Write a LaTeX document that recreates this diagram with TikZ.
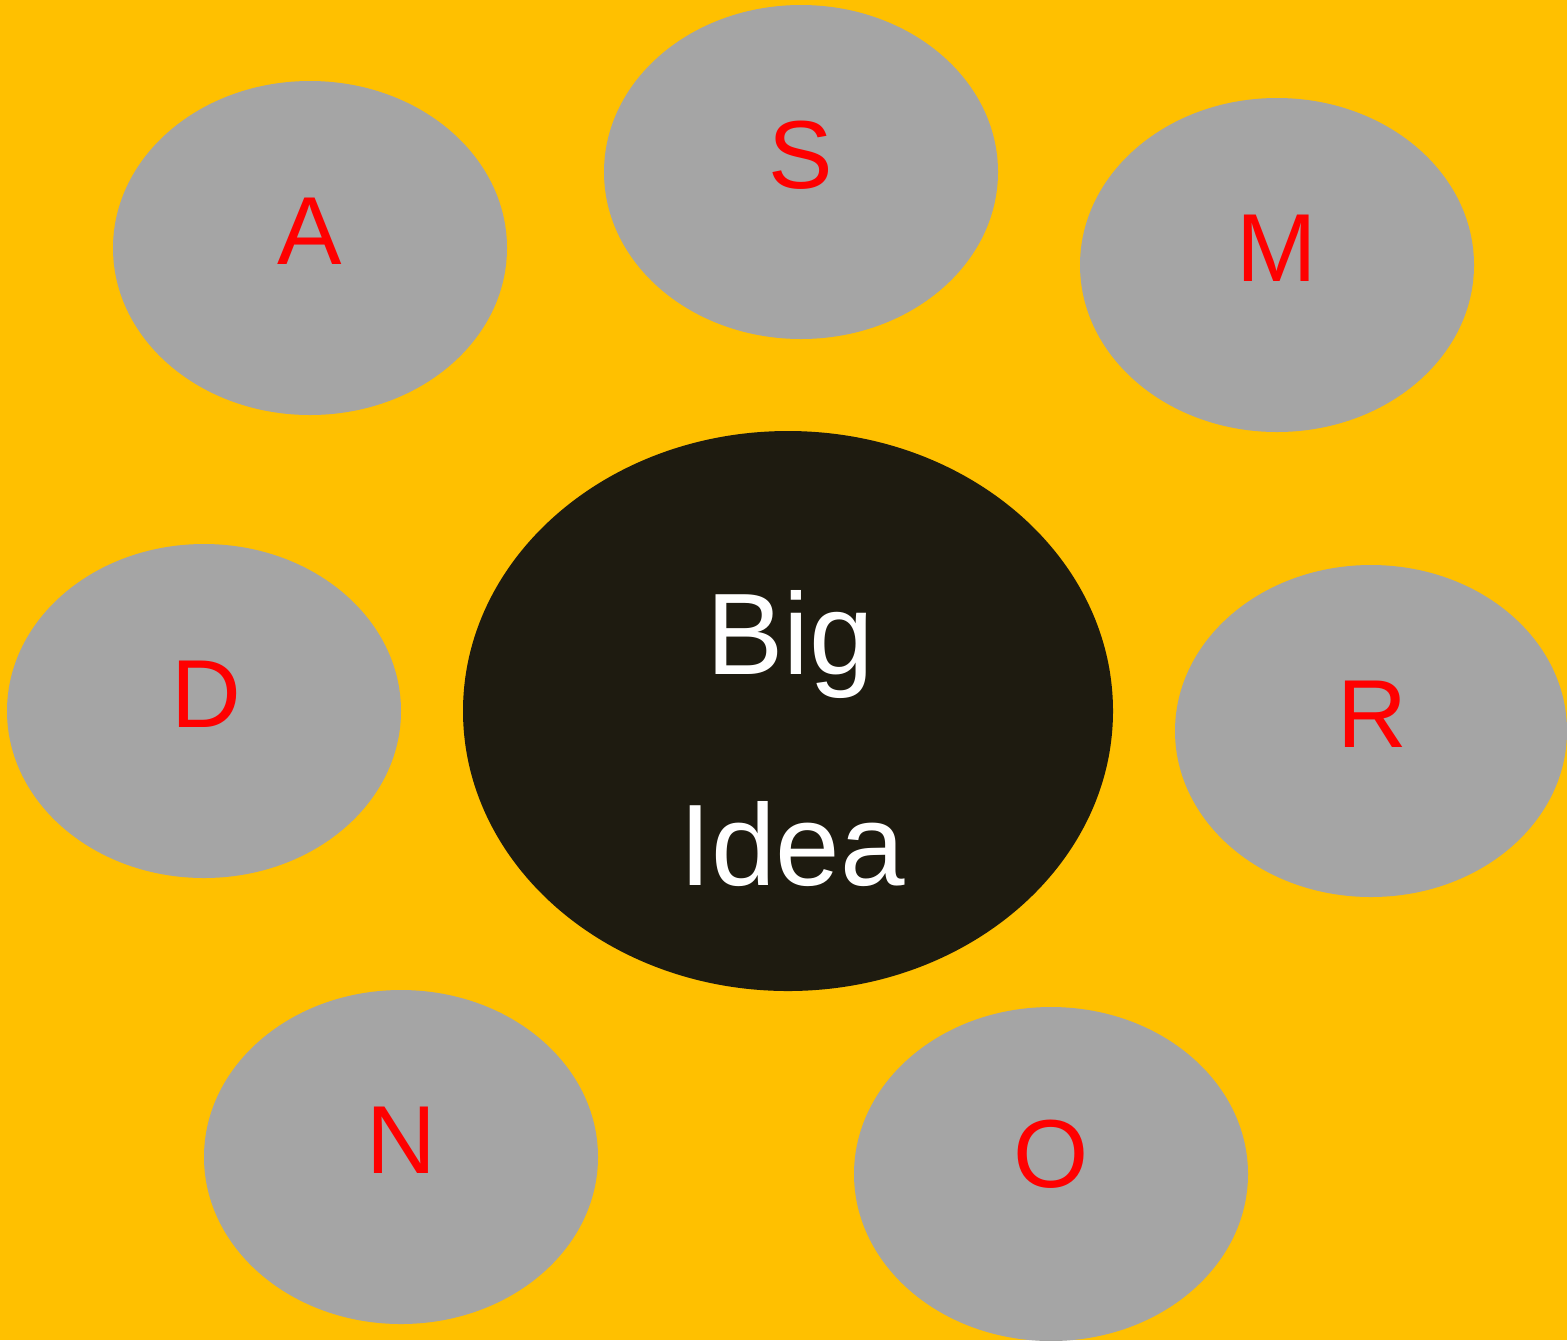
\documentclass[tikz,border=0pt]{standalone}
\usepackage{fontspec}
\setmainfont{Liberation Sans}
\definecolor{bg}{RGB}{255,192,0}
\definecolor{gr}{RGB}{165,165,165}
\definecolor{dk}{RGB}{30,27,16}
\begin{document}
\begin{tikzpicture}[x=0.02cm,y=-0.02cm,
  bubble/.style={fill=gr,draw=none},
  lab/.style={anchor=base,text=red,font=\fontsize{55}{60}\selectfont,inner sep=0pt},
  big/.style={anchor=base,text=white,font=\fontsize{66}{70}\selectfont,inner sep=0pt}]
\fill[bg] (0,0) rectangle (1567,1340);
\useasboundingbox (0,0) rectangle (1567,1340);
\fill[bubble] (310,248) ellipse [x radius=197,y radius=167];
\fill[bubble] (801,172) ellipse [x radius=197,y radius=167];
\fill[bubble] (1277,265) ellipse [x radius=197,y radius=167];
\fill[bubble] (204,711) ellipse [x radius=197,y radius=167];
\fill[bubble] (1371,731) ellipse [x radius=196,y radius=166];
\fill[bubble] (401,1157) ellipse [x radius=197,y radius=167];
\fill[bubble] (1051,1174) ellipse [x radius=197,y radius=167];
\fill[dk] (788,711) ellipse [x radius=325,y radius=280];
\node[lab] (a) at (310,264) {A};
\node[lab] (s) at (801,188) {S};
\node[lab] (m) at (1277,281) {M};
\node[lab] (d) at (206,727) {D};
\node[lab] (r) at (1372,747) {R};
\node[lab] (n) at (401,1173) {N};
\node[lab] (o) at (1051,1187) {O};
\node[big] (b1) at (790,674) {Big};
\node[big] (b2) at (792,885) {Idea};
\end{tikzpicture}
\end{document}
